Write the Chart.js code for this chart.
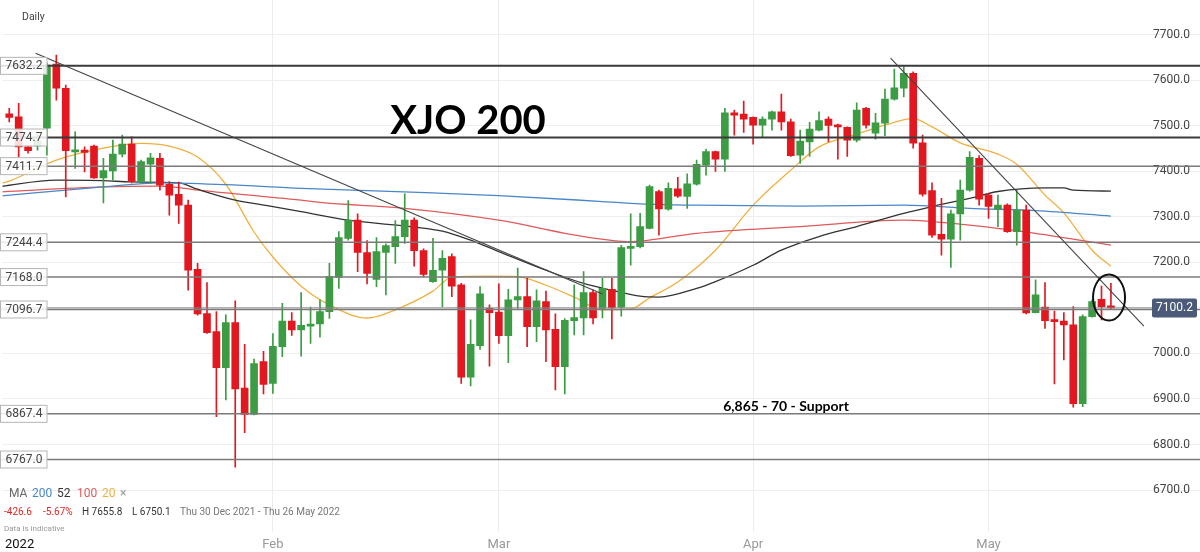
<!DOCTYPE html>
<html>
<head>
<meta charset="utf-8">
<script src="https://cdn.jsdelivr.net/npm/chart.js@4.4.1/dist/chart.umd.min.js"></script>
<style>
  html, body { margin: 0; padding: 0; background: #fff; }
  #wrap { width: 1200px; height: 552px; }
</style>
</head>
<body>
<div id="wrap"><canvas id="chart" width="1200" height="552"></canvas></div>
<script>
// daily candles, Thu 30 Dec 2021 - Thu 26 May 2022
var opens = [7526.8, 7520, 7454, 7456, 7495, 7636, 7583, 7443, 7447, 7456,
  7386, 7401, 7438, 7460, 7378, 7416, 7429, 7372, 7350, 7326,
  7185, 7088, 7048, 6969, 7068, 6924, 6866, 6982, 6934, 7015,
  7071, 7052, 7060, 7065, 7092, 7167, 7253, 7293, 7222, 7163,
  7222, 7235, 7257, 7293, 7226, 7158, 7183, 7213, 7151, 6948,
  7017, 7099, 7091, 7039, 7118, 7125, 7059, 7114, 7053, 6971,
  7072, 7078, 7134, 7099, 7141, 7101, 7231, 7235, 7275, 7356,
  7317, 7362, 7345, 7372, 7414, 7444, 7427, 7529, 7526, 7519,
  7502, 7515, 7531, 7509, 7436, 7465, 7491, 7515, 7502, 7497,
  7469, 7539, 7484, 7506, 7559, 7583, 7616, 7463, 7358, 7262,
  7251, 7307, 7359, 7429, 7348, 7317, 7326, 7268, 7315, 7090,
  7102, 7073, 7071, 7063, 6890, 7081, 7119, 7104];
var highs = [7539, 7550, 7457, 7482, 7638, 7655.8, 7590, 7487, 7454, 7458,
  7429, 7469, 7480, 7476, 7425, 7440, 7440, 7378, 7377, 7337,
  7198, 7156, 7092, 7085, 7116, 7020, 6988, 7005, 7044, 7110,
  7090, 7134, 7102, 7118, 7198, 7268, 7336, 7307, 7248, 7255,
  7241, 7292, 7351, 7298, 7230, 7253, 7226, 7219, 7154, 7074,
  7147, 7107, 7153, 7141, 7188, 7165, 7140, 7137, 7087, 7077,
  7151, 7180, 7140, 7165, 7165, 7238, 7307, 7308, 7370, 7359,
  7375, 7387, 7395, 7425, 7449, 7445, 7539, 7535, 7555, 7520,
  7520, 7533, 7570, 7515, 7491, 7508, 7531, 7520, 7504, 7498,
  7551, 7541, 7528, 7581, 7625, 7630, 7619, 7480, 7375, 7341,
  7315, 7381, 7444, 7435, 7352, 7348, 7329, 7359, 7326, 7162,
  7156, 7093, 7090, 7103, 7085, 7118, 7148, 7154];
var lows = [7509, 7432, 7440, 7447, 7436, 7557, 7344, 7407, 7399, 7385,
  7331, 7381, 7432, 7375, 7374, 7374, 7359, 7304, 7286, 7139,
  7084, 7044, 6861, 6898, 6750.1, 6826, 6865, 6911, 6912, 6993,
  7040, 6994, 7022, 7036, 7077, 7143, 7249, 7180, 7153, 7147,
  7129, 7198, 7242, 7192, 7169, 7156, 7103, 7125, 6934, 6929,
  7009, 6972, 7022, 6980, 7099, 7015, 7026, 6982, 6920, 6911,
  7041, 7041, 7065, 7078, 7032, 7082, 7194, 7232, 7274, 7260,
  7315, 7343, 7319, 7370, 7392, 7400, 7400, 7480, 7486, 7460,
  7475, 7491, 7491, 7433, 7418, 7433, 7489, 7465, 7427, 7433,
  7465, 7495, 7471, 7479, 7557, 7564, 7451, 7346, 7255, 7216,
  7189, 7249, 7357, 7326, 7297, 7279, 7266, 7238, 7087, 7089,
  7055, 6933, 6986, 6882, 6883, 7080, 7074, 7098];
var closes = [7519, 7454, 7446, 7467, 7634, 7583, 7446, 7447, 7442, 7386,
  7402, 7438, 7460, 7378, 7422, 7430, 7370, 7348, 7326, 7183,
  7087, 7046, 6969, 7068, 6922, 6866, 6978, 6932, 7016, 7071,
  7052, 7062, 7062, 7092, 7169, 7255, 7293, 7222, 7176, 7224,
  7237, 7257, 7293, 7226, 7174, 7183, 7209, 7148, 6948, 7020,
  7131, 7090, 7039, 7118, 7125, 7059, 7116, 7052, 6971, 7073,
  7079, 7134, 7078, 7143, 7100, 7233, 7235, 7279, 7367, 7318,
  7363, 7346, 7373, 7416, 7444, 7427, 7529, 7524, 7515, 7502,
  7515, 7531, 7509, 7435, 7467, 7493, 7512, 7501, 7498, 7469,
  7535, 7502, 7507, 7559, 7584, 7616, 7462, 7350, 7260, 7251,
  7307, 7359, 7431, 7339, 7323, 7326, 7268, 7315, 7089, 7129,
  7072, 7070, 7063, 6890, 7081, 7114, 7103, 7100.2];

// moving averages read at candle positions [index, value]
var ma200 = [[-1, 7346], [10, 7366], [16, 7375], [23, 7371], [31, 7363], [45, 7353], [52, 7347],
  [63, 7334], [67, 7329], [73, 7326], [84, 7324], [95, 7326], [102, 7319], [109, 7314], [117, 7302]];
var ma52 = [[-1, 7367], [5, 7381], [10, 7380], [13, 7377], [18, 7375], [20, 7361], [24, 7337],
  [28, 7323], [31, 7312], [36, 7293], [43, 7278], [46, 7269], [49, 7249], [52, 7224], [57, 7183],
  [61, 7154], [64, 7139], [67, 7126], [69, 7124], [73, 7143], [75, 7158], [79, 7194], [82, 7227],
  [86, 7257], [90, 7279], [95, 7308], [98, 7323], [102, 7341], [105, 7356], [110, 7364],
  [112, 7364], [113, 7359], [117, 7357]];
var ma100 = [[-1, 7355], [10, 7366], [16, 7368], [20, 7359], [31, 7337], [33, 7332], [42, 7319],
  [52, 7293], [61, 7257], [66, 7246], [67, 7247], [73, 7264], [84, 7279], [95, 7293],
  [102, 7282], [109, 7264], [117, 7238]];
var ma20 = [[-1, 7373], [0, 7379], [5, 7425], [11, 7455], [14, 7462], [17, 7456], [20, 7432],
  [23, 7372], [26, 7267], [28, 7212], [31, 7148], [34, 7107], [38, 7078], [41, 7096], [45, 7137],
  [47, 7168], [51, 7170], [54, 7169], [57, 7150], [60, 7124], [63, 7096], [66, 7098], [68, 7122],
  [71, 7157], [75, 7227], [79, 7326], [83, 7403], [86, 7454], [90, 7482], [93, 7502], [96, 7516],
  [98, 7498], [101, 7463], [105, 7438], [107, 7416], [110, 7348], [112, 7309], [115, 7227],
  [117, 7192]];

// axis ticks
var tickIdx = [1.1, 28, 52, 79, 104];
var tickLabels = ["2022", "Feb", "Mar", "Apr", "May"];
var yTicks = [6700, 6800, 6900, 7000, 7100, 7200, 7300, 7400, 7500, 7600, 7700];

// drawn levels and trend lines
var levels = [7632.2, 7474.7, 7411.7, 7244.4, 7168.0, 7096.7, 6867.4, 6767.0];
var strongLevels = [7632.2, 7474.7];
var trendA = [[2.8, 7660], [63, 7131]];
var trendB = [[93.6, 7649], [120.5, 7060]];
var circleAt = [116.8, 7123];
var supportNote = [82.5, 6884, "6,865 - 70 - Support"];

var up = "#3b9c44", down = "#e3171f";
var candleColors = opens.map(function (o, i) { return closes[i] >= o ? up : down; });

function pairs(arr) {
    return arr.map(function (p) { return { x: p[0], y: p[1] }; });
}

function maLine(label, arr, color) {
    return {
        type: "line",
        label: label,
        data: pairs(arr),
        borderColor: color,
        borderWidth: 1.3,
        pointRadius: 0,
        cubicInterpolationMode: "monotone",
        fill: false
    };
}

var overlay = {
    id: "overlay",
    afterDraw: function (chart) {
        var c = chart.ctx;
        var xs = chart.scales.x, ys = chart.scales.y;
        var W = chart.width;
        c.save();

        // horizontal levels
        levels.forEach(function (lv) {
            var y = ys.getPixelForValue(lv);
            var strong = strongLevels.indexOf(lv) >= 0;
            c.strokeStyle = strong ? "#3a3a3a" : "#7a7a7a";
            c.lineWidth = strong ? 2 : 1.5;
            c.beginPath();
            c.moveTo(0, y);
            c.lineTo(W, y);
            c.stroke();
        });

        // last price line
        var lastClose = closes[closes.length - 1];
        var py = ys.getPixelForValue(lastClose);
        c.strokeStyle = "#8a8a8a";
        c.lineWidth = 1;
        c.beginPath();
        c.moveTo(0, py);
        c.lineTo(1152, py);
        c.stroke();

        // trend lines
        c.strokeStyle = "#444";
        c.lineWidth = 1.1;
        [trendA, trendB].forEach(function (t) {
            c.beginPath();
            c.moveTo(xs.getPixelForValue(t[0][0]), ys.getPixelForValue(t[0][1]));
            c.lineTo(xs.getPixelForValue(t[1][0]), ys.getPixelForValue(t[1][1]));
            c.stroke();
        });

        // circle round the last candles
        c.strokeStyle = "#111";
        c.lineWidth = 2;
        c.beginPath();
        c.ellipse(xs.getPixelForValue(circleAt[0]), ys.getPixelForValue(circleAt[1]), 16, 23, 0, 0, Math.PI * 2);
        c.stroke();

        // level tags at the left
        c.font = "12px Roboto";
        c.textAlign = "center";
        c.textBaseline = "middle";
        levels.forEach(function (lv) {
            var y = ys.getPixelForValue(lv);
            c.fillStyle = "rgba(255,255,255,0.85)";
            c.fillRect(0.5, y - 8.5, 46.5, 17);
            c.strokeStyle = "#b5b5b5";
            c.lineWidth = 1;
            c.strokeRect(0.5, y - 8.5, 46.5, 17);
            c.fillStyle = "#444";
            c.fillText(lv.toFixed(1), 24, y + 0.5);
        });

        // last price tag
        c.fillStyle = "#4b5a78";
        c.beginPath();
        c.roundRect(1152, py - 9.5, 45, 19, 2);
        c.fill();
        c.fillStyle = "#fff";
        c.font = "12px Roboto";
        c.fillText(lastClose.toFixed(1), 1174.5, py + 0.5);

        // titles and notes
        c.fillStyle = "#000";
        c.font = "bold 40px Lato";
        c.fillText("XJO 200", 468, 121);
        c.font = "bold 14px Lato";
        c.fillText(supportNote[2], xs.getPixelForValue(supportNote[0]), ys.getPixelForValue(supportNote[1]));

        c.textAlign = "left";
        c.fillStyle = "#444";
        c.font = "10.5px Roboto";
        c.fillText("Daily", 22, 17);

        // MA legend
        var legend = [["MA", "#666", 9], ["200", "#4a87c6", 32], ["52", "#333", 57],
            ["100", "#e05a5a", 77], ["20", "#f0b040", 102], ["\u00d7", "#999", 120]];
        c.font = "12px Roboto";
        legend.forEach(function (l) {
            c.fillStyle = l[1];
            c.fillText(l[0], l[2], 494);
        });

        // range statistics
        var chg = lastClose - opens[0];
        var pct = chg / opens[0] * 100;
        var hi = Math.max.apply(null, highs), lo = Math.min.apply(null, lows);
        var stats = [[chg.toFixed(1), "#e02424", 4], [pct.toFixed(2) + "%", "#e02424", 43],
            ["H " + hi.toFixed(1), "#333", 82], ["L " + lo.toFixed(1), "#333", 132],
            ["Thu 30 Dec 2021 - Thu 26 May 2022", "#777", 180]];
        c.font = "10px Roboto";
        stats.forEach(function (s) {
            c.fillStyle = s[1];
            c.fillText(s[0], s[2], 512);
        });
        c.fillStyle = "#999";
        c.font = "8px Roboto";
        c.fillText("Data is indicative", 4, 529);

        c.restore();
    }
};

var ctx = document.getElementById("chart").getContext("2d");
new Chart(ctx, {
    type: "bar",
    data: {
        datasets: [{
            label: "body",
            data: opens.map(function (o, i) { return { x: i, y: [o, closes[i]] }; }),
            backgroundColor: candleColors,
            barThickness: 7,
            minBarLength: 2,
            grouped: false
        }, {
            label: "wick",
            data: lows.map(function (l, i) { return { x: i, y: [l, highs[i]] }; }),
            backgroundColor: candleColors,
            barThickness: 1,
            grouped: false
        },
        maLine("MA 200", ma200, "#4a87c6"),
        maLine("MA 52", ma52, "#333333"),
        maLine("MA 100", ma100, "#e05a5a"),
        maLine("MA 20", ma20, "#f0b040")
        ]
    },
    options: {
        responsive: false,
        animation: false,
        layout: { padding: 0 },
        plugins: {
            legend: { display: false },
            tooltip: { enabled: false }
        },
        scales: {
            x: {
                type: "linear",
                offset: false,
                min: -0.71,
                max: 126.46,
                afterBuildTicks: function (s) {
                    s.ticks = tickIdx.map(function (v) { return { value: v }; });
                },
                afterFit: function (s) { s.height = 20; },
                ticks: {
                    autoSkip: false,
                    maxRotation: 0,
                    padding: 5,
                    font: { size: 13, family: "Roboto" },
                    color: function (c) { return c.index === 0 ? "#111" : "#999"; },
                    callback: function (v, i) { return tickLabels[i]; }
                },
                grid: {
                    offset: false,
                    drawTicks: false,
                    color: function (c) { return c.index === 0 ? "rgba(0,0,0,0)" : "#ececec"; }
                },
                border: { display: false }
            },
            y: {
                position: "right",
                min: 6607.7,
                max: 7776.9,
                afterBuildTicks: function (s) {
                    s.ticks = yTicks.map(function (v) { return { value: v }; });
                },
                afterFit: function (s) { s.width = 0; },
                ticks: {
                    mirror: true,
                    padding: -10,
                    color: "#444",
                    font: { size: 12, family: "Roboto" },
                    callback: function (v) { return v.toFixed(1); }
                },
                grid: { drawTicks: false, color: "#eeeeee" },
                border: { display: false }
            }
        }
    },
    plugins: [overlay]
});
</script>
</body>
</html>
